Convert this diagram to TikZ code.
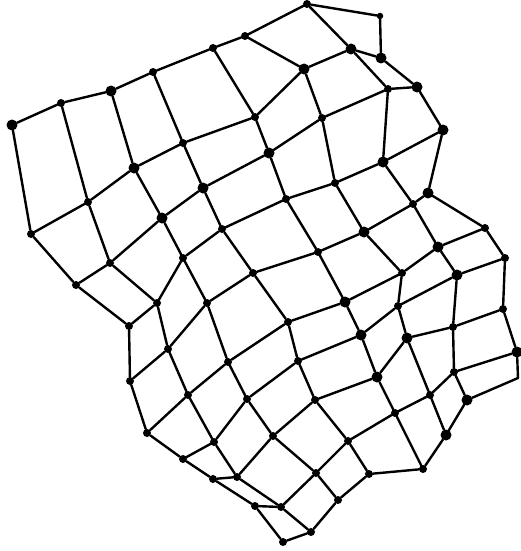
\documentclass[tikz,border=0pt]{standalone}
\begin{document}
\begin{tikzpicture}[x=1pt,y=-1pt,
  dot/.style={circle,fill=black,inner sep=0pt,minimum size=8pt},
  bigdot/.style={circle,fill=black,inner sep=0pt,minimum size=11pt},
  smalldot/.style={circle,fill=black,inner sep=0pt,minimum size=6.5pt},
  edge/.style={draw=black,line width=2.4pt,line cap=round}]
\path[use as bounding box] (0,0) rectangle (520,551);
% row a
\node[bigdot] (a1) at (12,125) {};
\node[dot] (a2) at (61,103) {};
\node[bigdot] (a3) at (111,91) {};
\node[dot] (a4) at (153,72) {};
\node[dot] (a5) at (213,48) {};
\node[dot] (a6) at (245,36) {};
\node[dot] (a7) at (307,4) {};
\node[smalldot] (a8) at (380,16) {};
% row b
\node[dot] (b1) at (31,234) {};
\node[dot] (b2) at (88,202) {};
\node[bigdot] (b3) at (134,168) {};
\node[dot] (b4) at (183,143) {};
\node[dot] (b5) at (255,117) {};
\node[bigdot] (b6) at (304,69) {};
\node[bigdot] (b7) at (351,49) {};
\node[bigdot] (b8) at (381,58) {};
% row c
\node[dot] (c1) at (76,285) {};
\node[dot] (c2) at (110,263) {};
\node[bigdot] (c3) at (162,218) {};
\node[bigdot] (c4) at (203,188) {};
\node[bigdot] (c5) at (269,153) {};
\node[dot] (c6) at (322,118) {};
\node[dot] (c7) at (388,89) {};
\node[bigdot] (c8) at (417,87) {};
% row d
\node[dot] (d1) at (129,326) {};
\node[dot] (d2) at (157,303) {};
\node[dot] (d3) at (183,258) {};
\node[dot] (d4) at (222,229) {};
\node[dot] (d5) at (286,199) {};
\node[dot] (d6) at (335,183) {};
\node[bigdot] (d7) at (383,162) {};
\node[bigdot] (d8) at (443,130) {};
% row e
\node[dot] (e1) at (130,381) {};
\node[dot] (e2) at (168,349) {};
\node[dot] (e3) at (207,303) {};
\node[dot] (e4) at (253,273) {};
\node[dot] (e5) at (318,252) {};
\node[bigdot] (e6) at (364,232) {};
\node[dot] (e7) at (413,204) {};
\node[bigdot] (e8) at (428,193) {};
% row f
\node[dot] (f1) at (147,433) {};
\node[dot] (f2) at (188,395) {};
\node[dot] (f3) at (228,362) {};
\node[dot] (f4) at (288,322) {};
\node[bigdot] (f5) at (345,302) {};
\node[dot] (f6) at (402,273) {};
\node[bigdot] (f7) at (438,247) {};
\node[dot] (f8) at (485,228) {};
% row g
\node[dot] (g1) at (183,459) {};
\node[dot] (g2) at (214,442) {};
\node[dot] (g3) at (247,399) {};
\node[dot] (g4) at (298,361) {};
\node[bigdot] (g5) at (361,335) {};
\node[dot] (g6) at (398,306) {};
\node[bigdot] (g7) at (457,275) {};
\node[dot] (g8) at (505,258) {};
% row h
\node[dot] (h1) at (213,479) {};
\node[dot] (h2) at (237,477) {};
\node[dot] (h3) at (273,436) {};
\node[dot] (h4) at (315,400) {};
\node[bigdot] (h5) at (377,377) {};
\node[bigdot] (h6) at (407,338) {};
\node[dot] (h7) at (453,327) {};
\node[dot] (h8) at (503,309) {};
% row i
\node[dot] (i1) at (255,506) {};
\node[dot] (i2) at (281,507) {};
\node[dot] (i3) at (316,473) {};
\node[dot] (i4) at (348,441) {};
\node[dot] (i5) at (395,413) {};
\node[dot] (i6) at (430,395) {};
\node[dot] (i7) at (454,372) {};
\node[bigdot] (i8) at (517,352) {};
% row j
\node[dot] (j1) at (283,542) {};
\node[dot] (j2) at (311,532) {};
\node[dot] (j3) at (338,500) {};
\node[dot] (j4) at (369,474) {};
\node[dot] (j5) at (423,469) {};
\node[bigdot] (j6) at (446,435) {};
\node[bigdot] (j7) at (467,400) {};
\coordinate (cr) at (518,378);
% boundary
\foreach \u/\v in {a1/a2,a2/a3,a3/a4,a4/a5,a5/a6,a6/a7,a7/a8,a8/b8,b8/c8,c8/d8,d8/e8,e8/f8,f8/g8,g8/h8,h8/i8,i8/cr,cr/j7,j7/j6,j6/j5,j5/j4,j4/j3,j3/j2,j2/j1,j1/i1,i1/h1,h1/g1,g1/f1,f1/e1,e1/d1,d1/c1,c1/b1,b1/a1}
  \draw[edge] (\u) -- (\v);
% interior
\foreach \u/\v in {a2/b2,a3/b3,a4/b4,a5/b5,a6/b6,a7/b7,
  b1/b2,b2/b3,b3/b4,b4/b5,b5/b6,b6/b7,b7/b8,
  b2/c2,b3/c3,b4/c4,b5/c5,b6/c6,b7/c7,
  c1/c2,c2/c3,c3/c4,c4/c5,c5/c6,c6/c7,c7/c8,
  c2/d2,c3/d3,c4/d4,c5/d5,c6/d6,c7/d7,
  d1/d2,d2/d3,d3/d4,d4/d5,d5/d6,d6/d7,d7/d8,
  d2/e2,d3/e3,d4/e4,d5/e5,d6/e6,d7/e7,
  e1/e2,e2/e3,e3/e4,e4/e5,e5/e6,e6/e7,e7/e8,
  e2/f2,e3/f3,e4/f4,e5/f5,e6/f6,e7/f7,
  f1/f2,f2/f3,f3/f4,f4/f5,f5/f6,f6/f7,f7/f8,
  f2/g2,f3/g3,f4/g4,f5/g5,f6/g6,f7/g7,
  g1/g2,g2/g3,g3/g4,g4/g5,g5/g6,g6/g7,g7/g8,
  g2/h2,g3/h3,g4/h4,g5/h5,g6/h6,g7/h7,
  h1/h2,h2/h3,h3/h4,h4/h5,h5/h6,h6/h7,h7/h8,
  h2/i2,h3/i3,h4/i4,h5/i5,h6/i6,h7/i7,
  i1/i2,i2/i3,i3/i4,i4/i5,i5/i6,i6/i7,i7/i8,
  i2/j2,i3/j3,i4/j4,i5/j5,i6/j6,i7/j7}
  \draw[edge] (\u) -- (\v);
\end{tikzpicture}
\end{document}
